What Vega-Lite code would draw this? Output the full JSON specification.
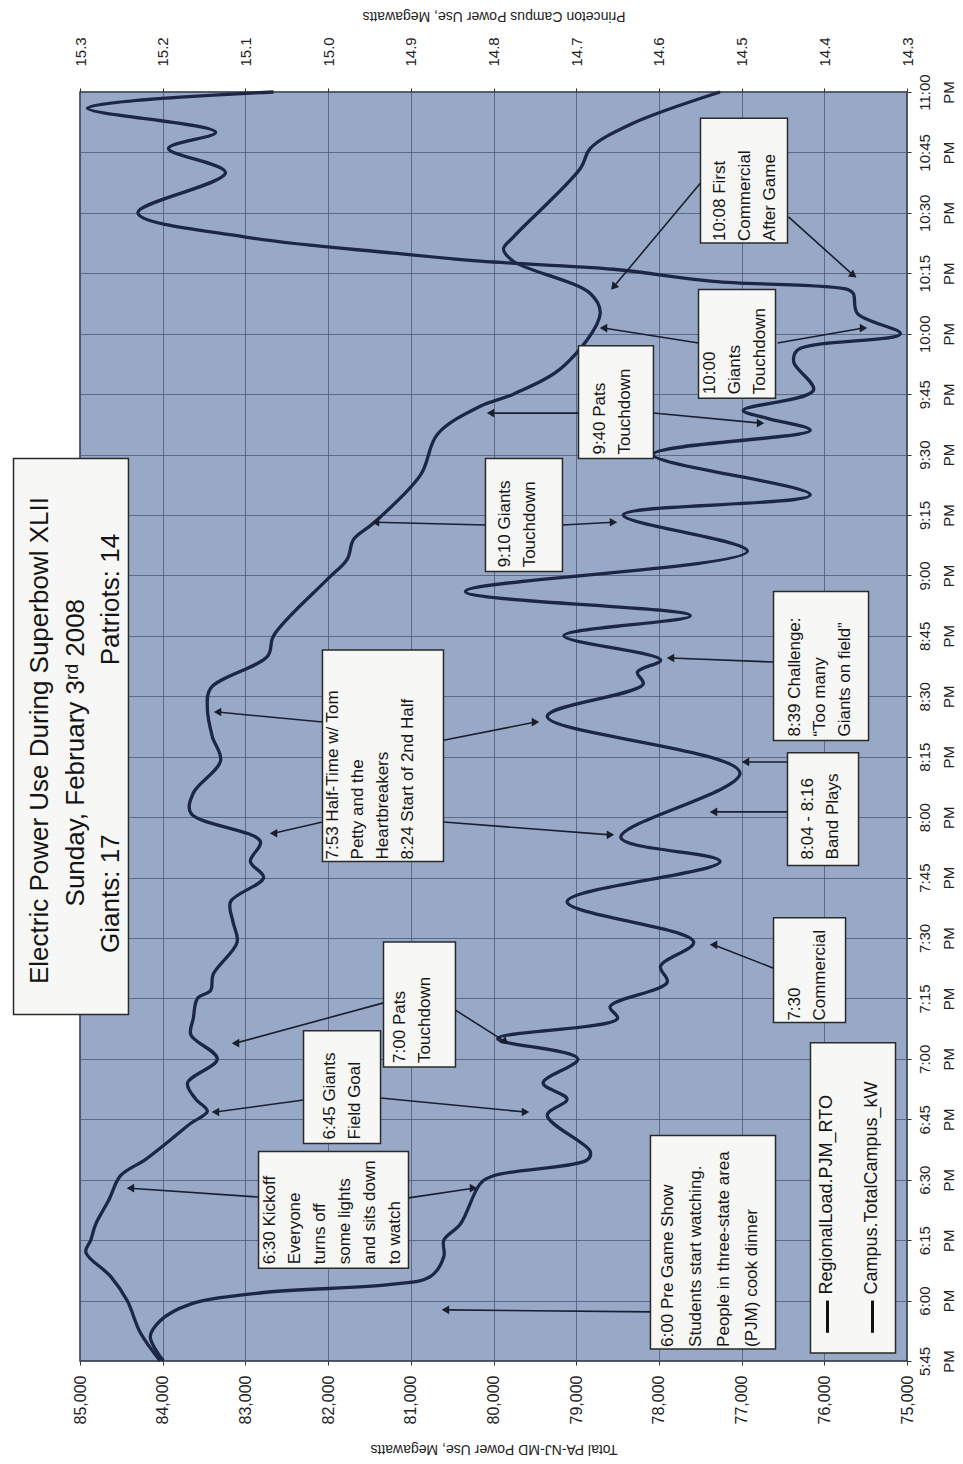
{
"$schema": "https://vega.github.io/schema/vega-lite/v6.json",
"width": 827, "height": 1269, "autosize": "none",
"padding": {"left": 80, "top": 92, "right": 56, "bottom": 103},
"background": "#ffffff",
"config": {"font": "Liberation Sans", "view": {"fill": "#98a8c7", "stroke": "#2b2f3a", "strokeWidth": 1.5}},
"datasets": {
"regional": [
{"time":"2008-02-03 17:45","load":84030},{"time":"2008-02-03 17:52","load":84270},{"time":"2008-02-03 18:00","load":84430},{"time":"2008-02-03 18:06","load":84630},{"time":"2008-02-03 18:12","load":84930},{"time":"2008-02-03 18:15","load":84870},{"time":"2008-02-03 18:19","load":84810},{"time":"2008-02-03 18:25","load":84650},{"time":"2008-02-03 18:31","load":84510},{"time":"2008-02-03 18:35","load":84210},{"time":"2008-02-03 18:40","load":83900},{"time":"2008-02-03 18:44","load":83660},{"time":"2008-02-03 18:47","load":83460},{"time":"2008-02-03 18:50","load":83600},{"time":"2008-02-03 18:54","load":83700},{"time":"2008-02-03 19:00","load":83340},{"time":"2008-02-03 19:06","load":83660},{"time":"2008-02-03 19:10","load":83630},{"time":"2008-02-03 19:15","load":83580},{"time":"2008-02-03 19:17","load":83420},{"time":"2008-02-03 19:21","load":83390},{"time":"2008-02-03 19:29","load":83100},{"time":"2008-02-03 19:34","load":83150},{"time":"2008-02-03 19:39","load":83180},{"time":"2008-02-03 19:45","load":82780},{"time":"2008-02-03 19:49","load":82940},{"time":"2008-02-03 19:54","load":82820},{"time":"2008-02-03 20:01","load":83660},{"time":"2008-02-03 20:06","load":83630},{"time":"2008-02-03 20:14","load":83300},{"time":"2008-02-03 20:20","load":83400},{"time":"2008-02-03 20:27","load":83460},{"time":"2008-02-03 20:32","load":83420},{"time":"2008-02-03 20:40","load":82730},{"time":"2008-02-03 20:45","load":82660},{"time":"2008-02-03 20:59","load":82010},{"time":"2008-02-03 21:04","load":81770},{"time":"2008-02-03 21:09","load":81690},{"time":"2008-02-03 21:13","load":81450},{"time":"2008-02-03 21:25","load":80880},{"time":"2008-02-03 21:35","load":80680},{"time":"2008-02-03 21:42","load":80160},{"time":"2008-02-03 21:45","load":79760},{"time":"2008-02-03 21:52","load":79150},{"time":"2008-02-03 22:05","load":78710},{"time":"2008-02-03 22:10","load":78830},{"time":"2008-02-03 22:18","load":79760},{"time":"2008-02-03 22:21","load":79880},{"time":"2008-02-03 22:24","load":79760},{"time":"2008-02-03 22:41","load":78950},{"time":"2008-02-03 22:46","load":78830},{"time":"2008-02-03 22:52","load":78340},{"time":"2008-02-03 23:00","load":77260}
],
"campus": [
{"time":"2008-02-03 17:45","mw":15.199},{"time":"2008-02-03 17:51","mw":15.215},{"time":"2008-02-03 17:55","mw":15.203},{"time":"2008-02-03 17:59","mw":15.168},{"time":"2008-02-03 18:02","mw":15.078},{"time":"2008-02-03 18:04","mw":14.924},{"time":"2008-02-03 18:06","mw":14.876},{"time":"2008-02-03 18:11","mw":14.86},{"time":"2008-02-03 18:15","mw":14.86},{"time":"2008-02-03 18:19","mw":14.84},{"time":"2008-02-03 18:29","mw":14.816},{"time":"2008-02-03 18:31","mw":14.8},{"time":"2008-02-03 18:35","mw":14.686},{"time":"2008-02-03 18:37","mw":14.683},{"time":"2008-02-03 18:46","mw":14.735},{"time":"2008-02-03 18:50","mw":14.711},{"time":"2008-02-03 18:54","mw":14.74},{"time":"2008-02-03 19:00","mw":14.698},{"time":"2008-02-03 19:05","mw":14.795},{"time":"2008-02-03 19:10","mw":14.65},{"time":"2008-02-03 19:13","mw":14.659},{"time":"2008-02-03 19:19","mw":14.59},{"time":"2008-02-03 19:23","mw":14.598},{"time":"2008-02-03 19:29","mw":14.558},{"time":"2008-02-03 19:39","mw":14.711},{"time":"2008-02-03 19:49","mw":14.526},{"time":"2008-02-03 19:55","mw":14.646},{"time":"2008-02-03 20:11","mw":14.502},{"time":"2008-02-03 20:25","mw":14.735},{"time":"2008-02-03 20:33","mw":14.619},{"time":"2008-02-03 20:36","mw":14.626},{"time":"2008-02-03 20:39","mw":14.598},{"time":"2008-02-03 20:45","mw":14.715},{"time":"2008-02-03 20:50","mw":14.562},{"time":"2008-02-03 20:56","mw":14.834},{"time":"2008-02-03 21:06","mw":14.493},{"time":"2008-02-03 21:15","mw":14.643},{"time":"2008-02-03 21:20","mw":14.417},{"time":"2008-02-03 21:30","mw":14.607},{"time":"2008-02-03 21:36","mw":14.417},{"time":"2008-02-03 21:39","mw":14.469},{"time":"2008-02-03 21:41","mw":14.498},{"time":"2008-02-03 21:46","mw":14.413},{"time":"2008-02-03 21:53","mw":14.437},{"time":"2008-02-03 21:56","mw":14.432},{"time":"2008-02-03 22:00","mw":14.308},{"time":"2008-02-03 22:05","mw":14.36},{"time":"2008-02-03 22:10","mw":14.365},{"time":"2008-02-03 22:11","mw":14.372},{"time":"2008-02-03 22:13","mw":14.534},{"time":"2008-02-03 22:16","mw":14.655},{"time":"2008-02-03 22:18","mw":14.816},{"time":"2008-02-03 22:20","mw":14.921},{"time":"2008-02-03 22:24","mw":15.1},{"time":"2008-02-03 22:30","mw":15.23},{"time":"2008-02-03 22:40","mw":15.124},{"time":"2008-02-03 22:46","mw":15.193},{"time":"2008-02-03 22:50","mw":15.136},{"time":"2008-02-03 22:56","mw":15.291},{"time":"2008-02-03 23:00","mw":15.066}
],
"boxes": [
{"t1":"2008-02-03 19:11","t2":"2008-02-03 21:29","v1":85804,"v2":84414},
{"t1":"2008-02-03 17:48","t2":"2008-02-03 18:41","v1":78102,"v2":76590},
{"t1":"2008-02-03 17:47","t2":"2008-02-03 19:04","v1":76167,"v2":75139},
{"t1":"2008-02-03 18:08","t2":"2008-02-03 18:37","v1":82841,"v2":81028},
{"t1":"2008-02-03 18:39","t2":"2008-02-03 19:07","v1":82297,"v2":81366},
{"t1":"2008-02-03 18:58","t2":"2008-02-03 19:29","v1":81330,"v2":80460},
{"t1":"2008-02-03 19:09","t2":"2008-02-03 19:35","v1":76614,"v2":75743},
{"t1":"2008-02-03 19:49","t2":"2008-02-03 20:41:30","v1":82068,"v2":80605},
{"t1":"2008-02-03 19:48","t2":"2008-02-03 20:16","v1":76445,"v2":75586},
{"t1":"2008-02-03 20:19","t2":"2008-02-03 20:56","v1":76614,"v2":75465},
{"t1":"2008-02-03 21:01","t2":"2008-02-03 21:29","v1":80097,"v2":79166},
{"t1":"2008-02-03 21:29","t2":"2008-02-03 21:57","v1":78972,"v2":78066},
{"t1":"2008-02-03 21:44","t2":"2008-02-03 22:11","v1":77521,"v2":76590},
{"t1":"2008-02-03 22:22:30","t2":"2008-02-03 22:53:30","v1":77497,"v2":76445}
],
"notes": [
{"t":"2008-02-03 18:09","v":82799,"lines":["6:30 Kickoff","Everyone","turns off","some lights","and sits down","to watch"]},
{"t":"2008-02-03 18:40","v":82074,"lines":["6:45 Giants","Field Goal"]},
{"t":"2008-02-03 18:59","v":81222,"lines":["7:00 Pats","Touchdown"]},
{"t":"2008-02-03 19:09:30","v":76451,"lines":["7:30","Commercial"]},
{"t":"2008-02-03 19:49:30","v":82038,"lines":["7:53 Half-Time w/ Tom","Petty and the","Heartbreakers","","8:24 Start of 2nd Half"]},
{"t":"2008-02-03 19:49:30","v":76294,"lines":["8:04 - 8:16","Band Plays"]},
{"t":"2008-02-03 20:20","v":76451,"lines":["8:39 Challenge:","“Too many","Giants on field”"]},
{"t":"2008-02-03 21:02","v":79957,"lines":["9:10 Giants","Touchdown"]},
{"t":"2008-02-03 21:30","v":78809,"lines":["9:40 Pats","Touchdown"]},
{"t":"2008-02-03 21:45","v":77479,"lines":["10:00","Giants","Touchdown"]},
{"t":"2008-02-03 22:23","v":77358,"lines":["10:08 First","Commercial","After Game"]}
],
"pregame": [
{"t":"2008-02-03 17:48:30","v":77987,"lines":["6:00 Pre Game Show","Students start watching.","People in three-state area","(PJM) cook dinner"]}
],
"legendText": [
{"t":"2008-02-03 18:01:30","v":76076,"text":"RegionalLoad.PJM_RTO"},
{"t":"2008-02-03 18:01:30","v":75532,"text":"Campus.TotalCampus_kW"}
],
"titles": [
{"t":"2008-02-03 20:19","v":85478,"text":"Electric Power Use During Superbowl XLII"},
{"t":"2008-02-03 20:16","v":85054,"text":"Sunday, February 3ʳᵈ 2008"},
{"t":"2008-02-03 19:41","v":84631,"text":"Giants: 17"},
{"t":"2008-02-03 20:54","v":84631,"text":"Patriots: 14"}
],
"arrows": [
{"id":"a1","bt":"2008-02-03 17:57:12","bv":78102,"tt":"2008-02-03 17:57:42","tv":80581},
{"id":"a2","bt":"2008-02-03 18:25:42","bv":82841,"tt":"2008-02-03 18:27:54","tv":84390},
{"id":"a3","bt":"2008-02-03 18:25:30","bv":81028,"tt":"2008-02-03 18:27:54","tv":80242},
{"id":"a4","bt":"2008-02-03 18:49:48","bv":82297,"tt":"2008-02-03 18:46:48","tv":83362},
{"id":"a5","bt":"2008-02-03 18:50:18","bv":81366,"tt":"2008-02-03 18:46:48","tv":79613},
{"id":"a6","bt":"2008-02-03 19:13:54","bv":81330,"tt":"2008-02-03 19:03:54","tv":83120},
{"id":"a7","bt":"2008-02-03 19:12:06","bv":80460,"tt":"2008-02-03 19:04:12","tv":79855},
{"id":"a8","bt":"2008-02-03 19:22:30","bv":76614,"tt":"2008-02-03 19:28:18","tv":77340},
{"id":"a9","bt":"2008-02-03 20:23:36","bv":82068,"tt":"2008-02-03 20:26:06","tv":83337},
{"id":"a10","bt":"2008-02-03 19:58:48","bv":82068,"tt":"2008-02-03 19:56:00","tv":82660},
{"id":"a11","bt":"2008-02-03 20:19:06","bv":80605,"tt":"2008-02-03 20:23:36","tv":79492},
{"id":"a12","bt":"2008-02-03 19:58:48","bv":80605,"tt":"2008-02-03 19:55:36","tv":78585},
{"id":"a13","bt":"2008-02-03 20:13:42","bv":76445,"tt":"2008-02-03 20:13:42","tv":76953},
{"id":"a14","bt":"2008-02-03 20:01:18","bv":76445,"tt":"2008-02-03 20:01:18","tv":77340},
{"id":"a15","bt":"2008-02-03 20:38:30","bv":76614,"tt":"2008-02-03 20:39:30","tv":77860},
{"id":"a16","bt":"2008-02-03 21:12:30","bv":80097,"tt":"2008-02-03 21:13:12","tv":81427},
{"id":"a17","bt":"2008-02-03 21:12:30","bv":79166,"tt":"2008-02-03 21:13:12","tv":78549},
{"id":"a18","bt":"2008-02-03 21:40:18","bv":78972,"tt":"2008-02-03 21:40:18","tv":80036},
{"id":"a19","bt":"2008-02-03 21:40:18","bv":78066,"tt":"2008-02-03 21:37:48","tv":76771},
{"id":"a20","bt":"2008-02-03 21:57:42","bv":77521,"tt":"2008-02-03 22:01:24","tv":78670},
{"id":"a21","bt":"2008-02-03 21:57:42","bv":76566,"tt":"2008-02-03 22:01:24","tv":75526},
{"id":"a22","bt":"2008-02-03 22:37:24","bv":77497,"tt":"2008-02-03 22:11:36","tv":78549},
{"id":"a23","bt":"2008-02-03 22:29:00","bv":76433,"tt":"2008-02-03 22:14:30","tv":75647}
],
"legend": [
{"t1":"2008-02-03 17:52","t2":"2008-02-03 18:00","v":75961},
{"t1":"2008-02-03 17:52","t2":"2008-02-03 18:00","v":75417}
]
},
"layer": [
{
"data": {"name": "campus"},
"mark": {"type": "line", "stroke": "#1c2744", "strokeWidth": 3.3, "interpolate": "catmull-rom"},
"encoding": {
"x": {"field": "mw", "type": "quantitative",
"scale": {"domain": [14.3, 15.3], "reverse": true, "nice": false, "zero": false},
"axis": {"orient": "top", "values": [14.3,14.4,14.5,14.6,14.7,14.8,14.9,15.0,15.1,15.2,15.3], "format": ".1f",
"labelAngle": 270, "labelAlign": "left", "labelBaseline": "middle", "labelFontSize": 15, "labelPadding": 22, "labelColor": "#222",
"title": "Princeton Campus Power Use, Megawatts", "titleAngle": 180, "titleBaseline": "top", "titleFontSize": 14, "titleFontWeight": "normal", "titleColor": "#222", "titlePadding": 14,
"grid": false, "domain": false, "tickSize": 4, "tickColor": "#333"}},
"y": {"field": "time", "type": "temporal",
"scale": {"domain": [{"year":2008,"month":2,"date":3,"hours":17,"minutes":45},{"year":2008,"month":2,"date":3,"hours":23,"minutes":0}], "nice": false},
"axis": {"orient": "right",
"values": [
{"year":2008,"month":2,"date":3,"hours":17,"minutes":45},{"year":2008,"month":2,"date":3,"hours":18,"minutes":0},{"year":2008,"month":2,"date":3,"hours":18,"minutes":15},{"year":2008,"month":2,"date":3,"hours":18,"minutes":30},{"year":2008,"month":2,"date":3,"hours":18,"minutes":45},{"year":2008,"month":2,"date":3,"hours":19,"minutes":0},{"year":2008,"month":2,"date":3,"hours":19,"minutes":15},{"year":2008,"month":2,"date":3,"hours":19,"minutes":30},{"year":2008,"month":2,"date":3,"hours":19,"minutes":45},{"year":2008,"month":2,"date":3,"hours":20,"minutes":0},{"year":2008,"month":2,"date":3,"hours":20,"minutes":15},{"year":2008,"month":2,"date":3,"hours":20,"minutes":30},{"year":2008,"month":2,"date":3,"hours":20,"minutes":45},{"year":2008,"month":2,"date":3,"hours":21,"minutes":0},{"year":2008,"month":2,"date":3,"hours":21,"minutes":15},{"year":2008,"month":2,"date":3,"hours":21,"minutes":30},{"year":2008,"month":2,"date":3,"hours":21,"minutes":45},{"year":2008,"month":2,"date":3,"hours":22,"minutes":0},{"year":2008,"month":2,"date":3,"hours":22,"minutes":15},{"year":2008,"month":2,"date":3,"hours":22,"minutes":30},{"year":2008,"month":2,"date":3,"hours":22,"minutes":45},{"year":2008,"month":2,"date":3,"hours":23,"minutes":0}],
"labelExpr": "[timeFormat(datum.value, '%-I:%M'), 'PM']",
"labelAngle": 270, "labelAlign": "center", "labelBaseline": "top", "labelFontSize": 15, "labelLineHeight": 24, "labelPadding": 6, "labelColor": "#222",
"labelOverlap": false, "labelFlush": false, "title": null,
"grid": true, "gridColor": "#4e5a74", "gridOpacity": 0.8, "domain": false, "tickSize": 4, "tickColor": "#333"}}
}
},
{
"data": {"name": "regional"},
"mark": {"type": "line", "stroke": "#1c2744", "strokeWidth": 3.3, "interpolate": "catmull-rom"},
"encoding": {
"x": {"field": "load", "type": "quantitative",
"scale": {"domain": [75000, 85000], "reverse": true, "nice": false, "zero": false},
"axis": {"orient": "bottom", "values": [75000,76000,77000,78000,79000,80000,81000,82000,83000,84000,85000], "format": ",d",
"labelAngle": 270, "labelAlign": "right", "labelBaseline": "middle", "labelFontSize": 16, "labelPadding": 10, "labelColor": "#222",
"title": "Total PA-NJ-MD Power Use, Megawatts", "titleAngle": 180, "titleBaseline": "bottom", "titleFontSize": 14, "titleFontWeight": "normal", "titleColor": "#222", "titlePadding": 18,
"grid": true, "gridColor": "#4e5a74", "gridOpacity": 0.8, "domain": false, "tickSize": 4, "tickColor": "#333"}},
"y": {"field": "time", "type": "temporal"}
}
},
{
"data": {"name": "boxes"},
"mark": {"type": "rect", "fill": "#f7f7f5", "stroke": "#2a2a2a", "strokeWidth": 1.5},
"encoding": {
"x": {"field": "v1", "type": "quantitative", "axis": null, "scale": {"domain": [75000, 85000], "reverse": true, "nice": false, "zero": false}},
"x2": {"field": "v2"},
"y": {"field": "t1", "type": "temporal"},
"y2": {"field": "t2"}
}
},
{
"data": {"name": "arrows"},
"mark": {"type": "rule", "stroke": "#1a1f2e", "strokeWidth": 1.6},
"encoding": {
"x": {"field": "bv", "type": "quantitative", "axis": null, "scale": {"domain": [75000, 85000], "reverse": true, "nice": false, "zero": false}},
"x2": {"field": "tv"},
"y": {"field": "bt", "type": "temporal"},
"y2": {"field": "tt"}
}
},
{
"data": {"name": "arrows"},
"transform": [{"filter": "datum.tv > datum.bv && datum.id != 'a22'"}],
"mark": {"type": "point", "shape": "triangle-left", "filled": true, "color": "#1a1f2e", "size": 75, "opacity": 1},
"encoding": {
"x": {"field": "tv", "type": "quantitative", "axis": null, "scale": {"domain": [75000, 85000], "reverse": true, "nice": false, "zero": false}},
"y": {"field": "tt", "type": "temporal"}
}
},
{
"data": {"name": "arrows"},
"transform": [{"filter": "datum.tv < datum.bv && datum.id != 'a7' && datum.id != 'a23'"}],
"mark": {"type": "point", "shape": "triangle-right", "filled": true, "color": "#1a1f2e", "size": 75, "opacity": 1},
"encoding": {
"x": {"field": "tv", "type": "quantitative", "axis": null, "scale": {"domain": [75000, 85000], "reverse": true, "nice": false, "zero": false}},
"y": {"field": "tt", "type": "temporal"}
}
},
{
"data": {"name": "arrows"},
"transform": [{"filter": "datum.id == 'a7' || datum.id == 'a23'"}],
"mark": {"type": "point", "shape": "triangle-right", "filled": true, "color": "#1a1f2e", "size": 75, "opacity": 1, "angle": 38},
"encoding": {
"x": {"field": "tv", "type": "quantitative", "axis": null, "scale": {"domain": [75000, 85000], "reverse": true, "nice": false, "zero": false}},
"y": {"field": "tt", "type": "temporal"}
}
},
{
"data": {"name": "arrows"},
"transform": [{"filter": "datum.id == 'a22'"}],
"mark": {"type": "point", "shape": "triangle-right", "filled": true, "color": "#1a1f2e", "size": 75, "opacity": 1, "angle": 130},
"encoding": {
"x": {"field": "tv", "type": "quantitative", "axis": null, "scale": {"domain": [75000, 85000], "reverse": true, "nice": false, "zero": false}},
"y": {"field": "tt", "type": "temporal"}
}
},
{
"data": {"name": "notes"},
"mark": {"type": "text", "angle": 270, "align": "left", "baseline": "top", "fontSize": 17, "lineHeight": 25, "color": "#141414"},
"encoding": {
"x": {"field": "v", "type": "quantitative", "axis": null, "scale": {"domain": [75000, 85000], "reverse": true, "nice": false, "zero": false}},
"y": {"field": "t", "type": "temporal"},
"text": {"field": "lines", "type": "nominal"}
}
},
{
"data": {"name": "pregame"},
"mark": {"type": "text", "angle": 270, "align": "left", "baseline": "top", "fontSize": 17, "lineHeight": 28, "color": "#141414"},
"encoding": {
"x": {"field": "v", "type": "quantitative", "axis": null, "scale": {"domain": [75000, 85000], "reverse": true, "nice": false, "zero": false}},
"y": {"field": "t", "type": "temporal"},
"text": {"field": "lines", "type": "nominal"}
}
},
{
"data": {"name": "legendText"},
"mark": {"type": "text", "angle": 270, "align": "left", "baseline": "top", "fontSize": 18, "color": "#141414"},
"encoding": {
"x": {"field": "v", "type": "quantitative", "axis": null, "scale": {"domain": [75000, 85000], "reverse": true, "nice": false, "zero": false}},
"y": {"field": "t", "type": "temporal"},
"text": {"field": "text", "type": "nominal"}
}
},
{
"data": {"name": "titles"},
"mark": {"type": "text", "angle": 270, "align": "center", "baseline": "middle", "fontSize": 26, "color": "#141414"},
"encoding": {
"x": {"field": "v", "type": "quantitative", "axis": null, "scale": {"domain": [75000, 85000], "reverse": true, "nice": false, "zero": false}},
"y": {"field": "t", "type": "temporal"},
"text": {"field": "text", "type": "nominal"}
}
},
{
"data": {"name": "legend"},
"mark": {"type": "rule", "stroke": "#111111", "strokeWidth": 3},
"encoding": {
"x": {"field": "v", "type": "quantitative", "axis": null, "scale": {"domain": [75000, 85000], "reverse": true, "nice": false, "zero": false}},
"y": {"field": "t1", "type": "temporal"},
"y2": {"field": "t2"}
}
}
],
"resolve": {"scale": {"x": "independent"}, "axis": {"x": "independent"}}
}
